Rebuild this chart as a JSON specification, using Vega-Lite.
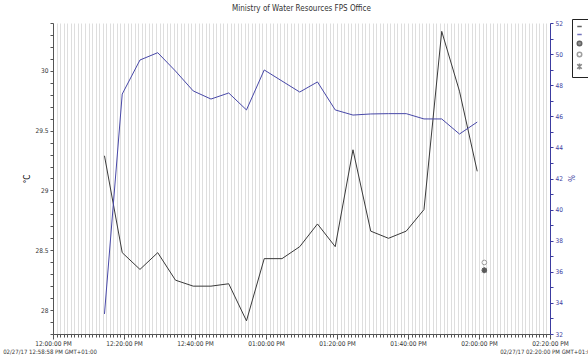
{
  "$schema": "https://vega.github.io/schema/vega-lite/v6.json",
  "width": 497,
  "height": 311,
  "autosize": {"type": "none"},
  "padding": {"left": 53, "top": 23, "right": 38, "bottom": 22},
  "background": "white",
  "config": {
    "view": {"stroke": null},
    "font": "DejaVu Sans Condensed, Liberation Sans, sans-serif",
    "axis": {
      "labelFontSize": 6.5,
      "labelColor": "#333333",
      "titleFontSize": 8,
      "titleFontWeight": "normal",
      "domainColor": "#555555",
      "tickColor": "#555555",
      "labelOverlap": false,
      "labelFlush": false
    },
    "legend": {"strokeColor": "#222222", "strokeWidth": 1, "fillColor": "white"}
  },
  "title": {
    "text": "Ministry of Water Resources FPS Office",
    "fontSize": 8,
    "fontWeight": "normal",
    "color": "#333333",
    "anchor": "middle",
    "offset": 6
  },
  "datasets": {
    "readings": [
      {"t": "2017-02-27T12:14:30Z", "temp": 29.29, "hum": 33.29},
      {"t": "2017-02-27T12:19:30Z", "temp": 28.48, "hum": 47.43},
      {"t": "2017-02-27T12:24:30Z", "temp": 28.34, "hum": 49.62},
      {"t": "2017-02-27T12:29:30Z", "temp": 28.48, "hum": 50.09},
      {"t": "2017-02-27T12:34:30Z", "temp": 28.25, "hum": 48.91},
      {"t": "2017-02-27T12:39:30Z", "temp": 28.2, "hum": 47.63},
      {"t": "2017-02-27T12:44:30Z", "temp": 28.2, "hum": 47.11},
      {"t": "2017-02-27T12:49:30Z", "temp": 28.22, "hum": 47.5},
      {"t": "2017-02-27T12:54:30Z", "temp": 27.91, "hum": 46.41},
      {"t": "2017-02-27T12:59:30Z", "temp": 28.43, "hum": 48.98},
      {"t": "2017-02-27T13:04:30Z", "temp": 28.43, "hum": 48.27},
      {"t": "2017-02-27T13:09:30Z", "temp": 28.53, "hum": 47.56},
      {"t": "2017-02-27T13:14:30Z", "temp": 28.72, "hum": 48.21},
      {"t": "2017-02-27T13:19:30Z", "temp": 28.53, "hum": 46.41},
      {"t": "2017-02-27T13:24:30Z", "temp": 29.34, "hum": 46.08},
      {"t": "2017-02-27T13:29:30Z", "temp": 28.66, "hum": 46.15},
      {"t": "2017-02-27T13:34:30Z", "temp": 28.6, "hum": 46.17},
      {"t": "2017-02-27T13:39:30Z", "temp": 28.66, "hum": 46.17},
      {"t": "2017-02-27T13:44:30Z", "temp": 28.84, "hum": 45.83},
      {"t": "2017-02-27T13:49:30Z", "temp": 30.33, "hum": 45.83},
      {"t": "2017-02-27T13:54:30Z", "temp": 29.83, "hum": 44.86},
      {"t": "2017-02-27T13:59:30Z", "temp": 29.16, "hum": 45.63}
    ],
    "markers": [
      {"t": "2017-02-27T14:01:30Z", "series": "Dew point", "v": 36.6},
      {"t": "2017-02-27T14:01:30Z", "series": "Reading", "v": 36.1},
      {"t": "2017-02-27T14:01:30Z", "series": "Alarm", "v": 36.1}
    ],
    "footers": [
      {"t": "2017-02-27T12:00:00Z", "label": "02/27/17 12:58:58 PM GMT+01:00"},
      {"t": "2017-02-27T14:20:00Z", "label": "02/27/17 02:20:00 PM GMT+01:00"}
    ]
  },
  "layer": [
    {
      "data": {"name": "readings"},
      "mark": {"type": "line", "color": "#3a3a3a", "strokeWidth": 1},
      "encoding": {
        "x": {
          "field": "t",
          "type": "temporal",
          "scale": {
            "type": "utc",
            "domain": [
              {"year": 2017, "month": 2, "date": 27, "hours": 12, "minutes": 0, "utc": true},
              {"year": 2017, "month": 2, "date": 27, "hours": 14, "minutes": 20, "utc": true}
            ]
          },
          "axis": {
            "title": null,
            "grid": true,
            "gridColor": "#dedede",
            "gridWidth": 1,
            "tickCount": 140,
            "labelExpr": "utcminutes(datum.value) % 20 == 0 ? utcFormat(datum.value, '%I:%M:%S %p') : ''",
            "tickSize": {"condition": {"test": "utcminutes(datum.value) % 20 == 0", "value": 5}, "value": 3},
            "labelPadding": 1
          }
        },
        "y": {
          "field": "temp",
          "type": "quantitative",
          "scale": {"domain": [27.8, 30.4], "zero": false, "nice": false},
          "axis": {
            "orient": "left",
            "title": "°C",
            "titlePadding": 3,
            "grid": false,
            "values": [27.8, 27.9, 28, 28.1, 28.2, 28.3, 28.4, 28.5, 28.6, 28.7, 28.8, 28.9, 29, 29.1, 29.2, 29.3, 29.4, 29.5, 29.6, 29.7, 29.8, 29.9, 30, 30.1, 30.2, 30.3, 30.4],
            "format": ".1~f",
            "labelExpr": "abs(datum.value * 2 - round(datum.value * 2)) < 0.001 ? datum.label : ''",
            "tickSize": 3
          }
        }
      }
    },
    {
      "data": {"name": "readings"},
      "mark": {"type": "line", "color": "#4848a8", "strokeWidth": 1},
      "encoding": {
        "x": {"field": "t", "type": "temporal"},
        "y": {
          "field": "hum",
          "type": "quantitative",
          "scale": {"domain": [32, 52], "zero": false, "nice": false},
          "axis": {
            "orient": "right",
            "title": "%",
            "titleColor": "#3c3ca0",
            "titleAngle": 90,
            "titleX": 15,
            "titleY": 155,
            "grid": false,
            "values": [32, 33, 34, 35, 36, 37, 38, 39, 40, 41, 42, 43, 44, 45, 46, 47, 48, 49, 50, 51, 52],
            "labelExpr": "datum.value % 2 == 0 ? datum.label : ''",
            "labelColor": "#3c3ca0",
            "domainColor": "#3c3ca0",
            "tickColor": "#3c3ca0",
            "tickSize": 3
          }
        }
      }
    },
    {
      "data": {"name": "markers"},
      "mark": {"type": "point", "size": 22, "strokeWidth": 1},
      "encoding": {
        "x": {"field": "t", "type": "temporal"},
        "y": {
          "field": "v",
          "type": "quantitative",
          "scale": {"domain": [32, 52], "zero": false, "nice": false},
          "axis": null
        },
        "shape": {
          "field": "series",
          "type": "nominal",
          "scale": {
            "domain": ["Temperature", "Humidity", "Reading", "Dew point", "Alarm"],
            "range": ["stroke", "stroke", "circle", "circle", "M-1,-1L1,1M1,-1L-1,1M0,-1.3L0,1.3"]
          },
          "legend": {
            "orient": "none",
            "legendX": 519,
            "legendY": -4,
            "title": null,
            "labelFontSize": 7,
            "labelOffset": 12,
            "symbolSize": 20,
            "padding": 4,
            "rowPadding": 0
          }
        },
        "color": {
          "field": "series",
          "type": "nominal",
          "scale": {
            "domain": ["Temperature", "Humidity", "Reading", "Dew point", "Alarm"],
            "range": ["#222222", "#3c3ca0", "#222222", "#777777", "#555555"]
          }
        },
        "fill": {
          "field": "series",
          "type": "nominal",
          "scale": {
            "domain": ["Temperature", "Humidity", "Reading", "Dew point", "Alarm"],
            "range": ["#222222", "#3c3ca0", "#222222", "white", "#555555"]
          }
        }
      }
    },
    {
      "data": {"name": "footers"},
      "mark": {"type": "text", "fontSize": 6, "color": "#333333", "dy": 18, "dx": -3, "baseline": "middle", "align": "center"},
      "encoding": {
        "x": {"field": "t", "type": "temporal"},
        "y": {
          "datum": 27.8,
          "type": "quantitative",
          "scale": {"domain": [27.8, 30.4], "zero": false, "nice": false},
          "axis": null
        },
        "text": {"field": "label"}
      }
    }
  ],
  "resolve": {"scale": {"y": "independent"}}
}
